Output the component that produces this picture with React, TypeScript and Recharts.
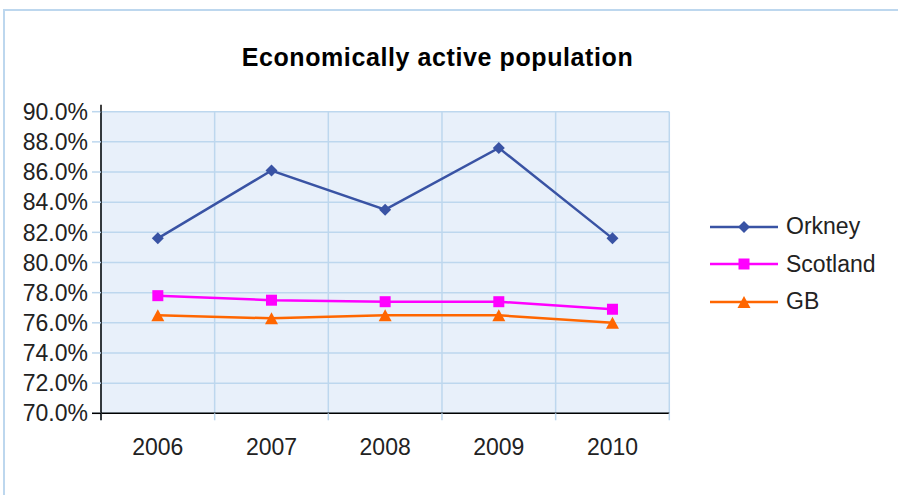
import React from 'react';
import { LineChart, Line, XAxis, YAxis, CartesianGrid, Legend } from 'recharts';

// ---- data ----
const YEARS = [2006, 2007, 2008, 2009, 2010];
const ORKNEY = [81.6, 86.1, 83.5, 87.6, 81.6];
const SCOTLAND = [77.8, 77.5, 77.4, 77.4, 76.9];
const GB = [76.5, 76.3, 76.5, 76.5, 76.0];
const Y_TICKS = [70, 72, 74, 76, 78, 80, 82, 84, 86, 88, 90];
const TITLE = 'Economically active population';

type MarkerType = 'diamond' | 'square' | 'triangle';

const SERIES: { key: string; name: string; values: number[]; color: string; marker: MarkerType }[] = [
  { key: 'orkney', name: 'Orkney', values: ORKNEY, color: '#3953a4', marker: 'diamond' },
  { key: 'scotland', name: 'Scotland', values: SCOTLAND, color: '#ff00ff', marker: 'square' },
  { key: 'gb', name: 'GB', values: GB, color: '#ff6600', marker: 'triangle' },
];

const data = YEARS.map((year, i) => {
  const row: Record<string, number> = { year };
  SERIES.forEach((s) => {
    row[s.key] = s.values[i];
  });
  return row;
});

// category boundaries between the years (for the grid and the axis ticks)
const BOUNDS = [YEARS[0] - 0.5, ...YEARS.map((y) => y + 0.5)];

// ---- styles ----
const FONT = '"Liberation Sans", Arial, Helvetica, sans-serif';
const GRID = '#bdd7ee';
const PLOT_BG = '#e8f0fa';
const AXIS = '#000000';
const TEXT = '#222222';
const Y_TICK_SIZE = 9;
const Y_TICK_MARGIN = 4;
const X_TICK_SIZE = 7;
const AXIS_EXT = 7;

function Marker({ type, cx, cy, color, scale = 1 }: { type: MarkerType; cx: number; cy: number; color: string; scale?: number }) {
  if (type === 'diamond') {
    const r = 6 * scale;
    return <polygon points={`${cx},${cy - r} ${cx + r},${cy} ${cx},${cy + r} ${cx - r},${cy}`} fill={color} />;
  }
  if (type === 'square') {
    const s = 5.5 * scale;
    return <rect x={cx - s} y={cy - s} width={2 * s} height={2 * s} fill={color} />;
  }
  const h = 6 * scale;
  const w = 6.5 * scale;
  return <polygon points={`${cx},${cy - h} ${cx + w},${cy + h} ${cx - w},${cy + h}`} fill={color} />;
}

function YTick(props: any) {
  const { x, y, payload } = props;
  const v = payload.value as number;
  const axisX = x + Y_TICK_MARGIN + Y_TICK_SIZE;
  return (
    <g>
      {v === Y_TICKS[0] && (
        <line x1={axisX - Y_TICK_SIZE} y1={y} x2={axisX} y2={y} stroke={AXIS} strokeWidth={1.5} />
      )}
      {v === Y_TICKS[Y_TICKS.length - 1] && (
        <line x1={axisX} y1={y - AXIS_EXT} x2={axisX} y2={y} stroke={AXIS} strokeWidth={1.5} />
      )}
      <text x={x} y={y} dy="0.355em" textAnchor="end" fontSize={23} fill={TEXT} fontFamily={FONT}>
        {v.toFixed(1)}%
      </text>
    </g>
  );
}

function BoundTick(props: any) {
  const { x, y, payload } = props;
  if (payload.value !== BOUNDS[0]) return <g />;
  return <line x1={x} y1={y - X_TICK_SIZE} x2={x} y2={y} stroke={AXIS} strokeWidth={1.5} />;
}

function YearTick(props: any) {
  const { x, y, payload } = props;
  return (
    <text x={x} y={y} dy="0.71em" textAnchor="middle" fontSize={23} fill={TEXT} fontFamily={FONT}>
      {String(payload.value)}
    </text>
  );
}

function LegendContent() {
  return (
    <div style={{ fontFamily: FONT }}>
      {SERIES.map((s) => (
        <div key={s.key} style={{ display: 'flex', alignItems: 'center', height: 37.5 }}>
          <svg width={70} height={20} style={{ display: 'block' }}>
            <line x1={1} y1={10} x2={69} y2={10} stroke={s.color} strokeWidth={2.5} />
            <Marker type={s.marker} cx={35} cy={10} color={s.color} />
          </svg>
          <span style={{ marginLeft: 7, fontSize: 23, color: TEXT, lineHeight: '37.5px' }}>{s.name}</span>
        </div>
      ))}
    </div>
  );
}

export default function App() {
  return (
    <div
      style={{
        position: 'absolute',
        left: 0,
        top: 0,
        width: 898,
        height: 495,
        overflow: 'hidden',
        background: '#ffffff',
      }}
    >
      <div
        style={{
          position: 'absolute',
          left: 3,
          top: 9,
          width: 1200,
          height: 800,
          borderLeft: `2px solid ${GRID}`,
          borderTop: `2px solid ${GRID}`,
        }}
      />
      <div
        style={{
          position: 'absolute',
          left: 0,
          top: 45,
          width: 875,
          textAlign: 'center',
          fontFamily: FONT,
          fontWeight: 'bold',
          fontSize: 25,
          lineHeight: '25px',
          letterSpacing: 0.6,
          color: '#000000',
        }}
      >
        {TITLE}
      </div>
      <div style={{ position: 'absolute', left: 0, top: 0 }}>
        <LineChart
          width={898}
          height={495}
          data={data}
          margin={{ top: 111.7, right: 228.7, bottom: 31.7, left: 0 }}
          style={{ fontFamily: FONT }}
        >
          <CartesianGrid xAxisId="bounds" fill={PLOT_BG} stroke={GRID} strokeWidth={1.5} />
          <XAxis
            xAxisId="bounds"
            dataKey="year"
            type="number"
            domain={[BOUNDS[0], BOUNDS[BOUNDS.length - 1]]}
            ticks={BOUNDS}
            interval={0}
            height={10}
            tickSize={X_TICK_SIZE}
            tickMargin={0}
            tickLine={{ stroke: GRID, strokeWidth: 1.5 }}
            axisLine={{ stroke: AXIS, strokeWidth: 1.5 }}
            tick={<BoundTick />}
          />
          <XAxis
            xAxisId="years"
            dataKey="year"
            type="number"
            domain={[BOUNDS[0], BOUNDS[BOUNDS.length - 1]]}
            ticks={YEARS}
            interval={0}
            height={40}
            tickSize={0}
            tickMargin={15}
            tickLine={false}
            axisLine={false}
            tick={<YearTick />}
          />
          <YAxis
            domain={[Y_TICKS[0], Y_TICKS[Y_TICKS.length - 1]]}
            ticks={Y_TICKS}
            interval={0}
            width={101}
            tickSize={Y_TICK_SIZE}
            tickMargin={Y_TICK_MARGIN}
            tickLine={{ stroke: GRID, strokeWidth: 1.5 }}
            axisLine={{ stroke: AXIS, strokeWidth: 1.5 }}
            tick={<YTick />}
          />
          <Legend
            layout="horizontal"
            align="center"
            verticalAlign="middle"
            content={<LegendContent />}
            wrapperStyle={{ left: 709, top: 208, width: 185 }}
          />
          {SERIES.map((s) => (
            <Line
              key={s.key}
              xAxisId="years"
              dataKey={s.key}
              name={s.name}
              stroke={s.color}
              strokeWidth={2.5}
              isAnimationActive={false}
              dot={(p: any) => <Marker key={`${s.key}-${p.index}`} type={s.marker} cx={p.cx} cy={p.cy} color={s.color} />}
              activeDot={false}
            />
          ))}
        </LineChart>
      </div>
    </div>
  );
}
